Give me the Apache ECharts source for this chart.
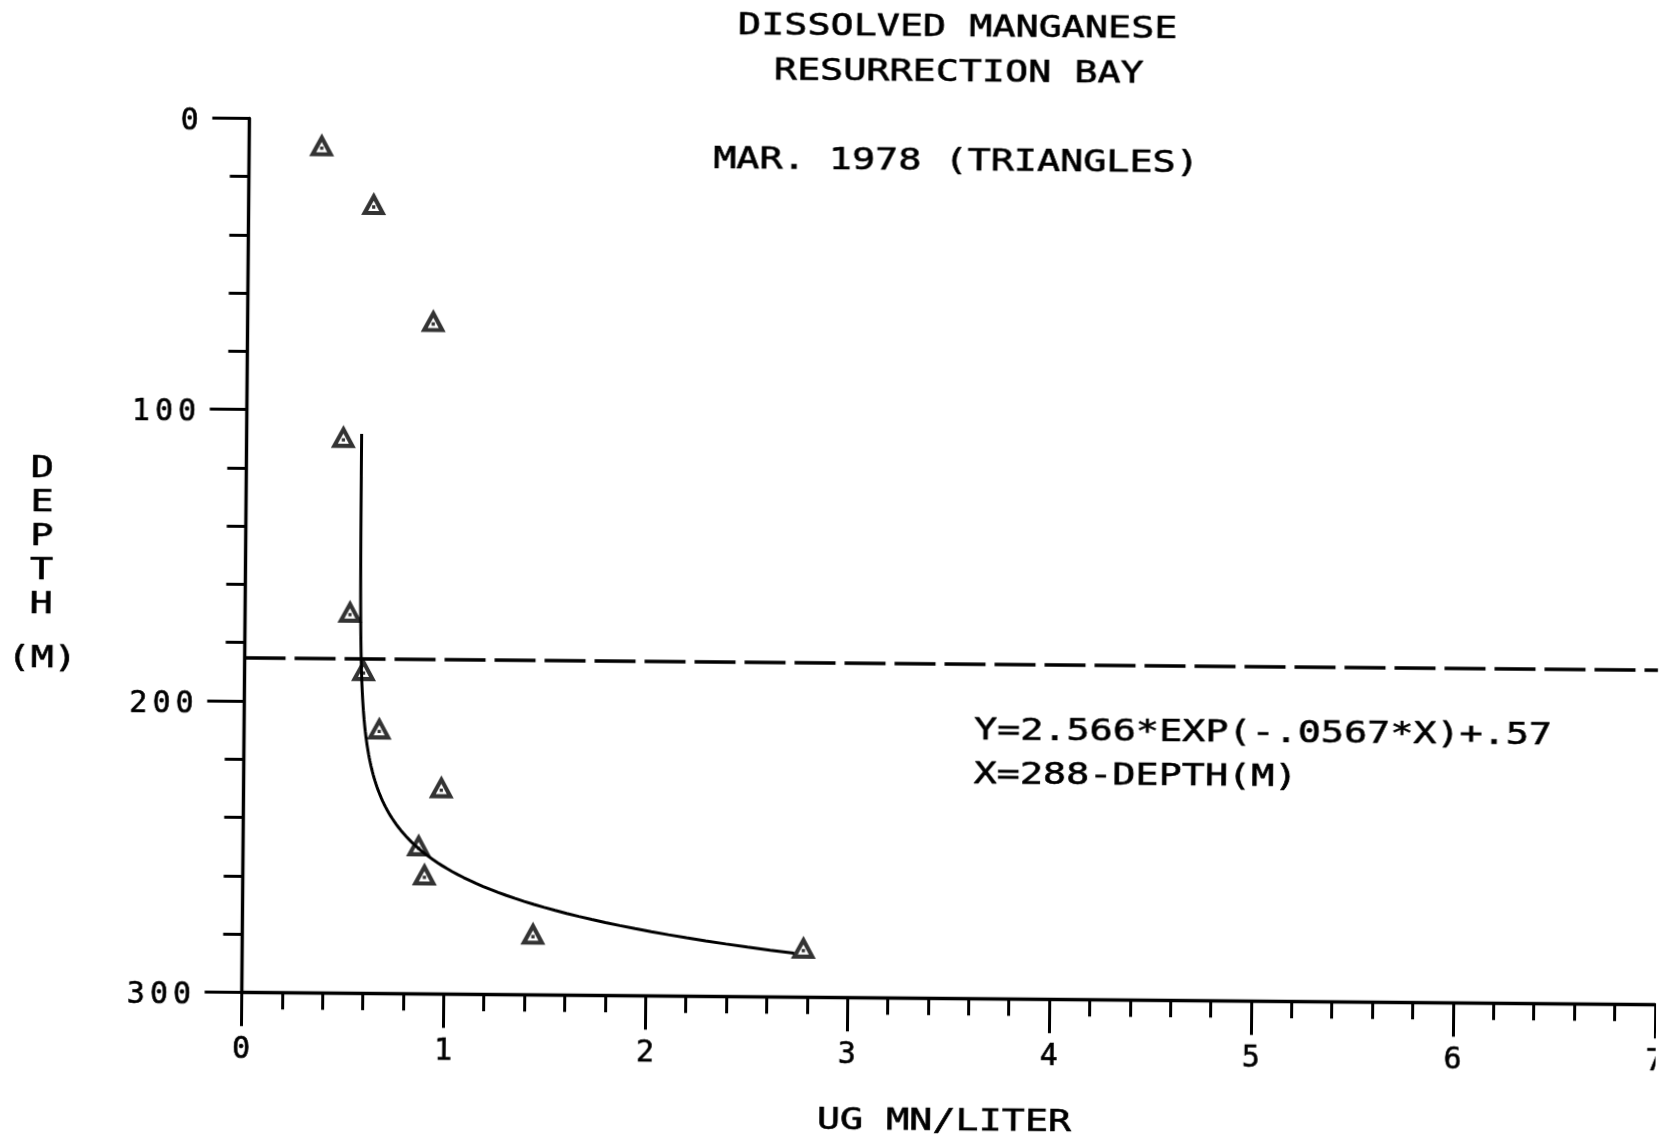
<!DOCTYPE html>
<html>
<head>
<meta charset="utf-8">
<title>Dissolved Manganese - Resurrection Bay</title>
<script src="https://cdn.jsdelivr.net/npm/echarts@6/dist/echarts.min.js"></script>
<style>
  html, body { margin: 0; padding: 0; background: #fff; overflow: hidden; }
  /* the plotter sheet sits a little askew on the page */
  #chart { width: 1660px; height: 1135px; transform: rotate(0.5deg); transform-origin: 830px 567.5px; }
</style>
</head>
<body>
<div id="chart"></div>
<script>
// Sample depths (m) and dissolved manganese (ug/L), March 1978 cast
const depthsM  = [10, 30, 70, 110, 170, 190, 210, 230, 250, 260, 280, 284];
const mnUgPerL = [0.36, 0.62, 0.92, 0.48, 0.52, 0.59, 0.67, 0.98, 0.87, 0.90, 1.44, 2.78];

// Axis ranges and tick steps
const depthRange = [0, 300];
const depthStep = 100;
const mnRange = [0, 7];
const mnStep = 1;

// Sill depth, drawn as the dashed line
const sillDepthM = 185;

// Fitted curve printed on the plot: Y = A*EXP(-K*X) + C, X = BASE - DEPTH
const fitA = 2.566;
const fitK = 0.0567;
const fitC = 0.57;
const fitBase = 288;
const fitDepthRange = [108, 285];

// Labels
const titleLines = ['DISSOLVED MANGANESE', 'RESURRECTION BAY'];
const subtitle = 'MAR. 1978 (TRIANGLES)';
const equationLines = ['Y=2.566*EXP(-.0567*X)+.57', 'X=288-DEPTH(M)'];
const xAxisTitle = 'UG MN/LITER';
const yAxisTitle = 'DEPTH';
const yAxisUnit = '(M)';

const INK = '#000';
const FONT = '"DejaVu Sans Mono", "Liberation Mono", monospace';
const FONT_SIZE = 30;
const CELL = 23.15;          // plotter character pitch
const STRETCH = 1.28;        // widen glyphs to the plotter pitch
const PEN = 0.6;             // extra pen weight on lettering

// curve points evaluated from the printed fit
const fitPoints = [];
for (let d = fitDepthRange[0]; d <= fitDepthRange[1]; d += 1) {
  fitPoints.push([fitA * Math.exp(-fitK * (fitBase - d)) + fitC, d]);
}

const samples = depthsM.map((d, i) => [mnUgPerL[i], d]);

// open triangle with a centre dot, as drawn by the pen plotter
const TRIANGLE =
  'path://M0 21 L11.5 0 L23 21 Z M6.42 17.2 L16.58 17.2 L11.5 7.92 Z M10 12.1 L13 12.1 L13 15.1 L10 15.1 Z';

// each character in its own fixed-width cell
function pitched(s) {
  return String(s).split('').map(ch => '{c|' + ch + '}').join('');
}
function cellRich(padTop) {
  return {
    c: {
      fontFamily: FONT, fontSize: FONT_SIZE, color: INK,
      textBorderColor: INK, textBorderWidth: PEN,
      width: CELL, align: 'center', padding: [padTop, 0, 0, 0]
    }
  };
}

function label(str, x, y, align, extraStyle) {
  return {
    type: 'text',
    x: x,
    y: y,
    scaleX: STRETCH,
    silent: true,
    style: Object.assign({
      text: str,
      font: FONT_SIZE + 'px ' + FONT,
      fill: INK,
      stroke: INK,
      lineWidth: PEN,
      textAlign: align,
      textVerticalAlign: 'middle'
    }, extraStyle || {})
  };
}

const chart = echarts.init(document.getElementById('chart'), null, { renderer: 'canvas' });

chart.setOption({
  animation: false,
  backgroundColor: '#fff',
  textStyle: { fontFamily: FONT, color: INK },
  grid: {
    left: 245.4, right: 1.2, top: 123.4, bottom: 137.7,
    containLabel: false,
    outerBoundsMode: 'none'
  },
  xAxis: {
    type: 'value',
    min: mnRange[0],
    max: mnRange[1],
    interval: mnStep,
    position: 'bottom',
    axisLine: { show: true, onZero: false, lineStyle: { color: INK, width: 3.4 } },
    axisTick: { show: true, inside: false, length: 34, lineStyle: { color: INK, width: 3 } },
    minorTick: { show: true, splitNumber: 5, length: 17, lineStyle: { color: INK, width: 3 } },
    splitLine: { show: false },
    minorSplitLine: { show: false },
    axisLabel: { margin: 43, formatter: v => pitched(v), rich: cellRich(0) }
  },
  yAxis: {
    type: 'value',
    inverse: true,
    min: depthRange[0],
    max: depthRange[1],
    interval: depthStep,
    position: 'left',
    axisLine: { show: true, onZero: false, lineStyle: { color: INK, width: 3.4 } },
    axisTick: { show: true, inside: false, length: 37, lineStyle: { color: INK, width: 3 } },
    minorTick: { show: true, splitNumber: 5, length: 19, lineStyle: { color: INK, width: 3 } },
    splitLine: { show: false },
    minorSplitLine: { show: false },
    axisLabel: { margin: 48, formatter: v => pitched(v), rich: cellRich(8) }
  },
  series: [
    {
      name: 'fit',
      type: 'line',
      data: fitPoints,
      showSymbol: false,
      symbol: 'none',
      smooth: false,
      silent: true,
      lineStyle: { color: INK, width: 3 },
      z: 2
    },
    {
      name: 'Mar 1978',
      type: 'scatter',
      data: samples,
      symbol: TRIANGLE,
      symbolSize: [25, 23],
      symbolOffset: [0, -3.2],
      itemStyle: { color: INK, borderWidth: 0 },
      silent: true,
      z: 3,
      markLine: {
        silent: true,
        symbol: 'none',
        label: { show: false },
        lineStyle: { color: INK, width: 3.6, type: [41, 9], cap: 'butt' },
        data: [{ yAxis: sillDepthM }]
      }
    }
  ],
  graphic: [
    label(titleLines[0], 953, 27.5, 'center'),
    label(titleLines[1], 954.5, 72, 'center'),
    label(subtitle, 952.5, 161, 'center'),
    label(equationLines[0], 975.5, 730.5, 'left'),
    label(equationLines[1], 975.5, 774.5, 'left'),
    label(xAxisTitle, 948.8, 1121, 'center'),
    label(yAxisTitle.split('').join('\n'), 41.5, 544.3, 'center', { lineHeight: 33.8 }),
    label(yAxisUnit, 43, 666.6, 'center')
  ]
});
</script>
</body>
</html>
